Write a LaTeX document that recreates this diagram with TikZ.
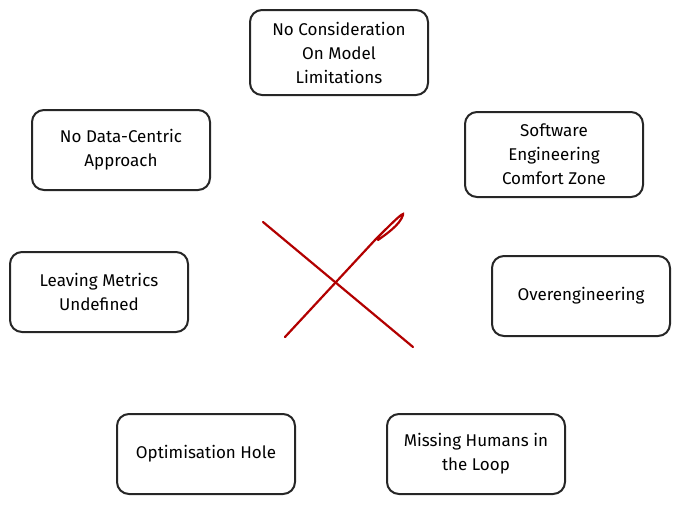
\documentclass[tikz,border=0pt]{standalone}
\usepackage{fontspec}
\setmainfont{Fira Sans}
\begin{document}
\begin{tikzpicture}[x=1pt,y=-1pt,
 box/.style={draw=black!85,line width=2pt,rounded corners=12pt,align=center,font=\fontsize{17}{24}\selectfont,inner sep=0pt},
 xl/.style={draw=red!70!black,line width=2.2pt,line cap=round}]
\useasboundingbox (0,0) rectangle (681,506);
\newcommand\bx[6]{\node[box,minimum width=#4-#2,minimum height=#5-#3] (#1) at ({(#2+#4)/2},{(#3+#5)/2}) {#6};}
\bx{a}{250}{10}{428}{95}{No Consideration\\On Model\\Limitations}
\bx{b}{32}{110}{210}{190}{No Data-Centric\\Approach}
\bx{c}{465}{112}{643}{197}{Software\\Engineering\\Comfort Zone}
\bx{d}{10}{252}{188}{332}{Leaving Metrics\\Undefined}
\bx{e}{492}{256}{670}{336}{Overengineering}
\bx{f}{117}{414}{295}{494}{Optimisation Hole}
\bx{g}{387}{414}{565}{494}{Missing Humans in\\the Loop}
\coordinate (x1) at (263,222); \coordinate (x2) at (413,347);
\coordinate (y1) at (285,337); \coordinate (y2) at (403,215);
\draw[xl] (x1) -- (x2);
\draw[xl] (y1) -- (375,240) .. controls (390,225) and (405,210) .. (y2) .. controls (400,225) and (385,235) .. (378,240);
\end{tikzpicture}
\end{document}
